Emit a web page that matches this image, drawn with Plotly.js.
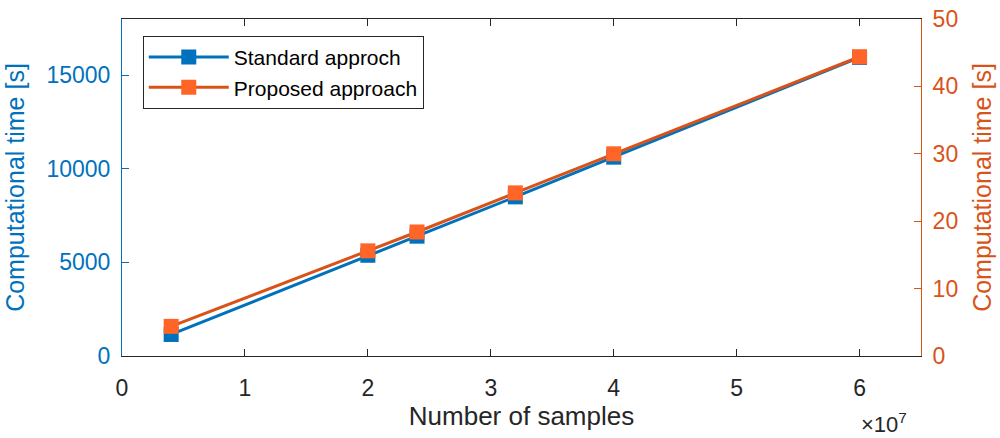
<!DOCTYPE html>
<html>
<head>
<meta charset="utf-8">
<script src="https://cdn.plot.ly/plotly-3.0.1.min.js"></script>
<style>html,body{margin:0;padding:0;background:#fff;}#chart{width:1000px;height:438px;}</style>
</head>
<body>
<div id="chart"></div>
<script>
// Data (x in number of samples)
const samples = [4e6, 2e7, 2.4e7, 3.2e7, 4e7, 6e7];
const standardTime = [1150, 5380, 6400, 8500, 10620, 15950];   // left axis [s]
const proposedTime = [4.4, 15.6, 18.4, 24.2, 30.0, 44.4];       // right axis [s]
const xTickVals = [0, 1e7, 2e7, 3e7, 4e7, 5e7, 6e7];
const xTickText = ['0', '1', '2', '3', '4', '5', '6'];
const yTickVals = [0, 5000, 10000, 15000];
const yTickText = ['0', '5000', '10000', '15000'];
const y2TickVals = [0, 10, 20, 30, 40, 50];
const legendNames = ['Standard approch', 'Proposed approach'];

const blue = '#0072BD', orange = '#D95319', orangeFill = '#FF6526', axGray = '#262626';
const font = 'Liberation Sans, Arial, Helvetica, sans-serif';

const traces = [
  {x: samples, y: standardTime, name: legendNames[0], type: 'scatter', mode: 'lines+markers',
   yaxis: 'y', line: {color: blue, width: 3},
   marker: {symbol: 'square', size: 15, color: blue}},
  {x: samples, y: proposedTime, name: legendNames[1], type: 'scatter', mode: 'lines+markers',
   yaxis: 'y2', line: {color: orange, width: 3},
   marker: {symbol: 'square', size: 15, color: orangeFill}}
];

const layout = {
  width: 1000, height: 438,
  margin: {l: 122, r: 79, t: 19, b: 82},
  paper_bgcolor: '#fff', plot_bgcolor: '#fff',
  font: {family: font, size: 23, color: axGray},
  showlegend: true,
  legend: {x: 0.026, y: 0.95, xanchor: 'left', yanchor: 'top',
           bordercolor: axGray, borderwidth: 1, bgcolor: '#fff',
           font: {size: 21, color: '#000'}, itemwidth: 80, tracegroupgap: 0},
  xaxis: {range: [0, 6.5e7], tickvals: xTickVals, ticktext: xTickText,
          showgrid: false, zeroline: false, showline: true, linecolor: axGray, linewidth: 1,
          mirror: 'ticks', ticks: 'inside', ticklen: 7, tickcolor: axGray,
          tickfont: {size: 23, color: axGray}, ticklabelstandoff: 11,
          title: {text: 'Number of samples', font: {size: 26, color: axGray}, standoff: 5}},
  yaxis: {range: [0, 18000], tickvals: yTickVals, ticktext: yTickText,
          showgrid: false, zeroline: false, showline: true, linecolor: blue, linewidth: 1,
          ticks: 'inside', ticklen: 7, tickcolor: blue,
          tickfont: {size: 23, color: blue}, ticklabelstandoff: 6,
          title: {text: 'Computational time [s]', font: {size: 25, color: blue}, standoff: 14}},
  yaxis2: {range: [0, 50], overlaying: 'y', side: 'right', tickvals: y2TickVals,
           showgrid: false, zeroline: false, showline: true, linecolor: orange, linewidth: 1,
           ticks: 'inside', ticklen: 7, tickcolor: orange,
           tickfont: {size: 23, color: orange}, ticklabelstandoff: 6,
           title: {text: 'Computational time [s]', font: {size: 25, color: orange}, standoff: 16}},
  annotations: [{xref: 'paper', yref: 'paper', x: 0.923, y: -0.2, xanchor: 'left', yanchor: 'middle',
                 text: '×10<sup>7</sup>', showarrow: false, font: {size: 22, color: axGray}}]
};

Plotly.newPlot('chart', traces, layout, {displayModeBar: false, staticPlot: true});
</script>
</body>
</html>
